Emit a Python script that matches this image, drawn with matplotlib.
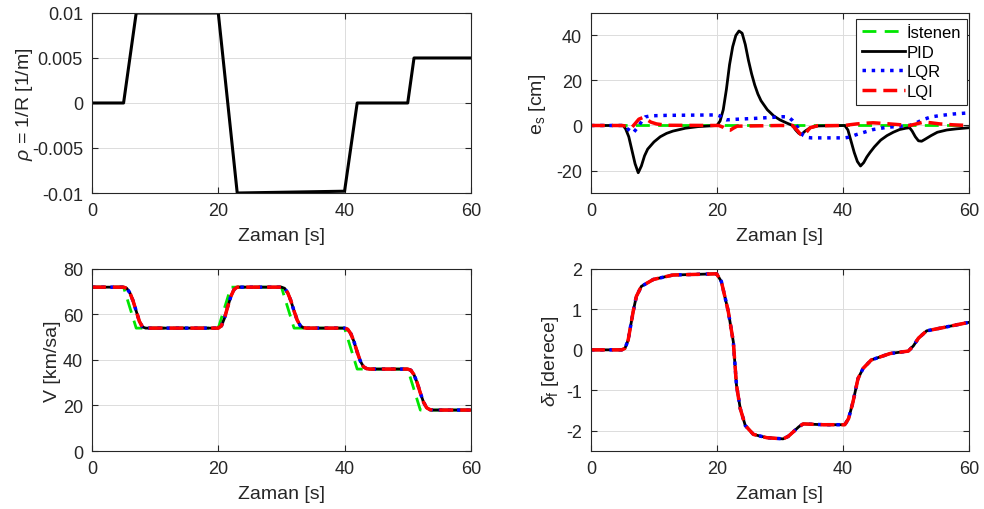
import matplotlib
matplotlib.use("Agg")
import matplotlib.pyplot as plt

plt.rcParams['font.family'] = ['Liberation Sans', 'DejaVu Sans']
plt.rcParams['axes.unicode_minus'] = False
plt.rcParams['mathtext.fontset'] = 'custom'
plt.rcParams['mathtext.rm'] = 'Liberation Sans'
plt.rcParams['mathtext.it'] = 'Liberation Sans:italic'

# --- curvature reference rho = 1/R
t_rho = [0, 5, 7, 20, 23, 40, 42, 50, 51, 60]
rho = [0, 0, 0.01, 0.01, -0.01, -0.0098, 0, 0, 0.005, 0.005]

# --- lateral error e_s [cm]
t_pid = [0, 5.1, 5.5, 6, 6.5, 7, 7.5, 8, 8.5, 9, 10, 11, 12, 13, 15, 17, 20,
         20.5, 21, 21.5, 22, 22.5, 23, 23.5, 24, 24.5, 25, 25.5, 26, 26.5, 27, 28, 29, 30, 31,
         32, 32.5, 33, 33.4, 34, 34.8, 36, 40.3,
         40.8, 41.3, 41.8, 42.3, 42.8, 43.3, 43.8, 44.3, 45, 46, 47, 48, 49, 50, 50.6,
         51, 51.5, 52, 52.5, 53, 54, 55, 56.5, 58, 60]
e_pid = [0, 0, -1.5, -5, -11, -17, -21, -18, -13.5, -10.5, -7.3, -5, -3.5, -2.5, -1.2, -0.5, 0,
         2, 7, 16, 27, 35, 40, 42, 41, 36, 29, 23, 18, 14, 11, 7, 4.3, 2.5, 1.2,
         0, -2, -3.5, -4, -2.5, -1, -0.2, 0,
         -2, -7, -12, -16, -18, -16.5, -14, -12, -9.5, -6.5, -4.5, -3, -1.8, -1.2, -1,
         -2.5, -5, -6.8, -7, -6.2, -4.5, -3, -2, -1.5, -1]
t_lqr = [0, 5, 5.8, 6.7, 7.5, 8.2, 8.6, 9.5, 12, 20, 20.5, 21, 21.5, 22.6, 26.3, 30.5, 31.4,
         32, 32.6, 33.2, 33.7, 34.3, 35, 40.3, 41, 42.2, 44.8, 47, 50.6, 51.5, 52.8, 54,
         55.4, 57.5, 60]
e_lqr = [0, 0, -1.5, -3.3, -0.5, 2.5, 3.8, 4.3, 4.5, 4.7, 4.2, 3, 2.5, 2.7, 3.2, 3.9, 3.7,
         2.2, 0.2, -2.5, -4.4, -5.3, -5.5, -5.5, -5.2, -4, -1.8, -0.8, 0, 1, 2.7, 3.8,
         4.4, 5.1, 5.6]
t_lqi = [0, 5, 5.8, 6.5, 7, 7.6, 8.2, 8.8, 9.5, 10.4, 12, 20.3, 21, 21.6, 22.1, 22.6, 23.2,
         30, 32, 32.7, 33.3, 33.7, 34.2, 34.8, 36, 40.3, 41, 42.2, 43.5, 44.8, 47, 50.6,
         51.5, 52.8, 54, 55.4, 57.5, 60]
e_lqi = [0, 0, -0.5, -0.8, 0.8, 2.8, 3.5, 2.8, 1.5, 0.7, 0.1, 0, -0.8, -2, -2.1, -1.2, -0.3,
         0, 0, -2, -4, -4.4, -3, -1, -0.1, 0, 0.3, 0.7, 1, 1.2, 0.8, 0,
         0.6, 1.5, 1.2, 0.7, 0.3, 0]
t_des = [0, 60]
e_des = [0, 0]

# --- speed V [km/sa]
t_vref = [0, 5, 7, 20, 22, 30, 32, 40, 42, 50, 52, 60]
v_ref = [72, 72, 54, 54, 72, 72, 54, 54, 36, 36, 18, 18]
t_v = [0, 5, 5.5, 6, 6.5, 7, 7.5, 8, 8.5, 20, 20.5, 21, 21.5, 22, 22.5, 23,
       30, 30.5, 31, 31.5, 32, 32.5, 33, 33.5, 34, 40, 40.5, 41, 41.5, 42, 42.5, 43, 43.5, 44,
       50, 50.5, 51, 51.5, 52, 52.5, 53, 53.5, 54, 60]
v = [72, 72, 71.5, 69.5, 66, 61.5, 57, 54.5, 54, 54, 55, 58.5, 63.5, 68, 71, 72,
     72, 71.5, 69.5, 66, 61.5, 57.5, 55, 54.2, 54, 54, 53.5, 51.5, 48, 43.5, 39.5, 37, 36.2, 36,
     36, 35.5, 33.5, 30, 25.5, 21.5, 19, 18.2, 18, 18]

# --- steering angle delta_f [derece]
t_d = [0, 4.9, 5.4, 5.9, 6.7, 7.2, 8.0, 9.9, 13.0, 19.95, 20.7, 21.8, 22.6, 23.1, 23.7,
       24.5, 25.8, 27.9, 30.5, 31.3, 32.1, 33.0, 33.7, 36.9, 40.3, 40.9, 41.6, 42.4, 43.2, 44.5, 47.5,
       50.4, 51.2, 52.0, 53.3, 55.9, 60]
delta = [0, 0, 0.04, 0.24, 0.95, 1.32, 1.57, 1.74, 1.85, 1.88, 1.69, 0.95, 0.2, -0.87, -1.45,
         -1.87, -2.09, -2.17, -2.2, -2.14, -2.03, -1.9, -1.83, -1.85, -1.85, -1.7, -1.29, -0.71, -0.46, -0.25, -0.09,
         -0.03, 0.1, 0.29, 0.47, 0.55, 0.68]

c_des = '#00e600'
fs_tick = 13
fs_lab = 14


def style(ax, ylim, yticks, yticklabels=None):
    ax.set_xlim(0, 60)
    ax.set_xticks([0, 20, 40, 60])
    ax.set_ylim(*ylim)
    ax.set_yticks(yticks)
    if yticklabels is not None:
        ax.set_yticklabels(yticklabels)
    ax.grid(True, color='#dcdcdc', lw=0.7)
    ax.set_axisbelow(True)
    ax.tick_params(direction='in', top=True, right=True, labelsize=fs_tick,
                   color='#262626', labelcolor='#262626', length=4, width=0.8, pad=6.5)
    for s in ax.spines.values():
        s.set_color('#262626')
        s.set_linewidth(0.8)
    ax.set_xlabel('Zaman [s]', fontsize=fs_lab, labelpad=6, color='#262626')


fig = plt.figure(figsize=(9.84, 5.10), dpi=100)
ax1 = fig.add_axes([0.0935, 0.6196, 0.385, 0.353])
ax2 = fig.add_axes([0.6006, 0.6196, 0.384, 0.353])
ax3 = fig.add_axes([0.0935, 0.1137, 0.385, 0.357])
ax4 = fig.add_axes([0.6006, 0.1137, 0.384, 0.357])

# rho
ax1.plot(t_rho, rho, color='k', lw=2.2)
style(ax1, (-0.01, 0.01), [-0.01, -0.005, 0, 0.005, 0.01],
      ['-0.01', '-0.005', '0', '0.005', '0.01'])
ax1.set_ylabel('$\\rho$ = 1/R [1/m]', fontsize=fs_lab, labelpad=-2, color='#262626')

# e_s
ax2.plot(t_des, e_des, color=c_des, lw=2, dashes=(5, 3), label='İstenen')
ax2.plot(t_pid, e_pid, color='k', lw=2, label='PID')
ax2.plot(t_lqr, e_lqr, color='#0000ff', lw=2.5, ls=':', label='LQR')
ax2.plot(t_lqi, e_lqi, color='#ff0000', lw=2.5, dashes=(4, 2), label='LQI')
style(ax2, (-30, 50), [-20, 0, 20, 40])
ax2.set_ylabel('e$_\\mathrm{s}$ [cm]', fontsize=fs_lab, labelpad=6, color='#262626')
leg = ax2.legend(loc='upper right', bbox_to_anchor=(1.0, 0.975), fontsize=12,
                 fancybox=False, framealpha=1, edgecolor='#262626',
                 handlelength=2.6, handletextpad=0.1, labelspacing=0.28,
                 borderaxespad=0.1, borderpad=0.35)
leg.get_frame().set_linewidth(0.8)

# V
ax3.plot(t_vref, v_ref, color=c_des, lw=2, dashes=(5, 3))
ax3.plot(t_v, v, color='k', lw=2)
ax3.plot(t_v, v, color='#0000ff', lw=2.5, ls=':')
ax3.plot(t_v, v, color='#ff0000', lw=2.5, dashes=(4, 2))
style(ax3, (0, 80), [0, 20, 40, 60, 80])
ax3.set_ylabel('V [km/sa]', fontsize=fs_lab, labelpad=1, color='#262626')

# delta_f
ax4.plot(t_d, delta, color='k', lw=2)
ax4.plot(t_d, delta, color='#0000ff', lw=2.5, ls=':')
ax4.plot(t_d, delta, color='#ff0000', lw=2.5, dashes=(4, 2))
style(ax4, (-2.5, 2), [-2, -1, 0, 1, 2])
ax4.set_ylabel('$\\delta_\\mathrm{f}$ [derece]', fontsize=fs_lab, labelpad=4, color='#262626')

fig.savefig('out.png', dpi=100)
